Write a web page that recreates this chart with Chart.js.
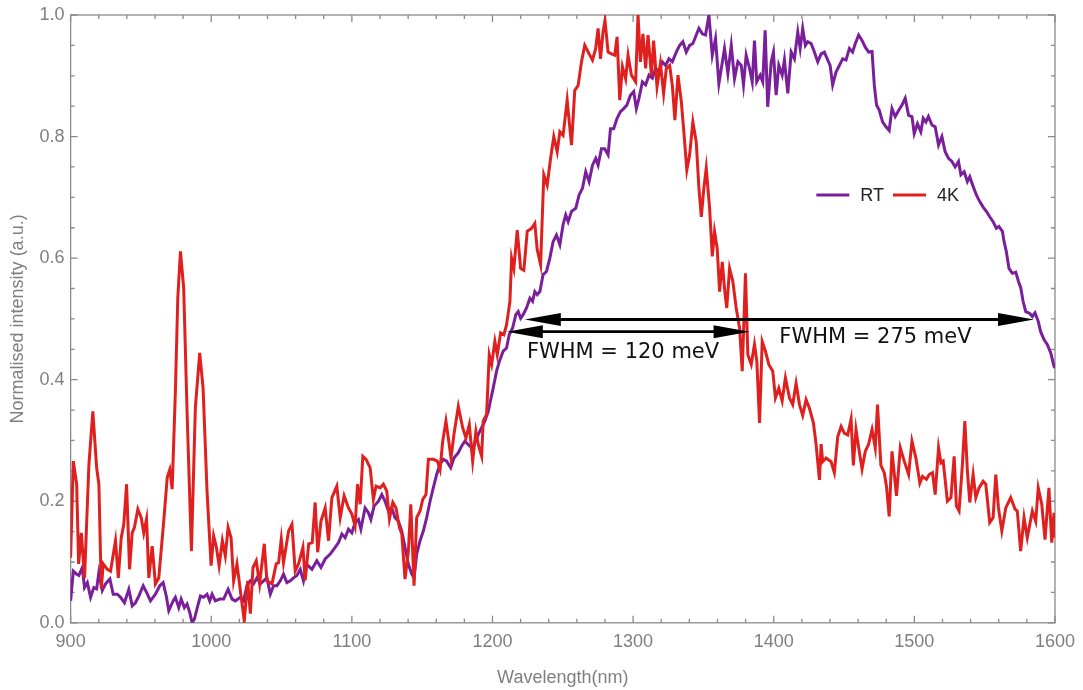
<!DOCTYPE html>
<html>
<head>
<meta charset="utf-8">
<script src="https://cdn.jsdelivr.net/npm/chart.js@4.4.1/dist/chart.umd.min.js"></script>
<style>
  html, body { margin: 0; padding: 0; background: #fff; }
  #wrap { width: 1083px; height: 690px; }
</style>
</head>
<body>
<div id="wrap"><canvas id="spectrum" width="1083" height="690"></canvas></div>
<script>
// RT spectrum (purple)
const rtWavelength = [
  900.0, 901.9, 904.3, 905.9, 908.3, 909.9, 911.9, 914.2, 916.5, 918.5,
  920.1, 922.5, 924.8, 927.9, 930.3, 933.2, 935.5, 938.3, 941.4, 943.8,
  946.1, 948.5, 951.6, 954.0, 956.8, 960.3, 963.4, 965.8, 968.2, 969.8,
  972.9, 974.5, 976.9, 978.6, 980.9, 982.8, 984.7, 986.4, 988.0, 990.4,
  992.3, 994.6, 997.0, 998.9, 1000.6, 1002.9, 1006.0, 1008.8, 1012.0, 1014.8,
  1017.1, 1020.7, 1023.0, 1025.4, 1027.8, 1030.1, 1032.5, 1034.9, 1037.2, 1039.6,
  1042.0, 1044.3, 1046.7, 1049.1, 1051.4, 1053.8, 1056.2, 1058.5, 1060.9, 1063.3,
  1065.6, 1068.0, 1071.6, 1075.1, 1078.0, 1081.0, 1084.6, 1088.1, 1090.5, 1092.9,
  1095.2, 1097.6, 1100.0, 1102.3, 1104.7, 1106.4, 1109.4, 1111.8, 1113.5, 1115.8,
  1118.9, 1121.3, 1123.6, 1126.0, 1128.4, 1130.7, 1133.1, 1135.5, 1137.8, 1140.2,
  1142.6, 1144.2, 1146.1, 1148.5, 1150.8, 1153.2, 1155.6, 1157.9, 1160.3, 1162.7,
  1165.0, 1167.4, 1170.3, 1172.6, 1175.7, 1178.1, 1180.4, 1182.8, 1185.2, 1187.5,
  1189.9, 1192.3, 1194.6, 1197.0, 1198.7, 1200.5, 1202.9, 1205.3, 1207.6, 1210.0,
  1211.9, 1214.3, 1216.6, 1218.3, 1220.0, 1221.8, 1224.2, 1226.6, 1228.5, 1230.1,
  1231.8, 1233.7, 1236.0, 1238.4, 1240.8, 1243.1, 1245.5, 1247.9, 1250.2, 1252.1,
  1253.8, 1256.2, 1259.2, 1261.6, 1264.0, 1266.3, 1268.7, 1271.1, 1273.4, 1275.1,
  1277.5, 1279.8, 1282.2, 1283.9, 1286.2, 1288.6, 1291.0, 1293.3, 1295.6, 1298.1,
  1300.4, 1302.3, 1304.2, 1306.6, 1308.9, 1311.3, 1313.7, 1316.0, 1318.4, 1320.8,
  1323.1, 1325.5, 1327.9, 1330.7, 1333.1, 1335.4, 1337.8, 1340.2, 1342.5, 1344.9,
  1346.8, 1349.2, 1351.5, 1353.9, 1356.3, 1358.6, 1361.0, 1365.0, 1367.4, 1369.8,
  1372.1, 1374.5, 1376.9, 1378.5, 1380.4, 1382.8, 1384.7, 1386.3, 1387.9, 1390.4,
  1392.2, 1393.9, 1395.7, 1398.2, 1399.8, 1401.7, 1403.6, 1406.0, 1407.6, 1410.0,
  1412.4, 1414.7, 1417.1, 1418.8, 1420.6, 1422.5, 1424.2, 1426.6, 1428.9, 1431.3,
  1433.7, 1436.0, 1438.4, 1440.1, 1441.9, 1444.3, 1446.7, 1449.0, 1451.4, 1453.8,
  1456.1, 1458.0, 1460.4, 1462.8, 1465.1, 1467.5, 1469.9, 1471.5, 1473.1, 1475.1,
  1477.4, 1479.8, 1482.1, 1484.1, 1486.4, 1488.8, 1491.2, 1493.5, 1495.9, 1498.3,
  1499.9, 1502.2, 1504.6, 1506.3, 1508.2, 1510.0, 1512.5, 1514.8, 1517.2, 1519.6,
  1521.9, 1524.3, 1526.7, 1529.0, 1531.4, 1533.1, 1535.4, 1537.7, 1539.4, 1541.8,
  1544.1, 1546.5, 1548.9, 1551.2, 1553.6, 1556.0, 1558.3, 1560.2, 1562.6, 1563.8,
  1565.4, 1567.3, 1569.7, 1572.1, 1574.0, 1575.7, 1577.3, 1579.2, 1582.1, 1583.9,
  1585.8, 1588.1, 1589.8, 1592.2, 1594.5, 1597.0, 1599.3, 1600.0
];
const rtIntensity = [
  0.036, 0.085, 0.080, 0.078, 0.091, 0.058, 0.066, 0.042, 0.058, 0.056,
  0.083, 0.053, 0.064, 0.072, 0.047, 0.047, 0.042, 0.033, 0.055, 0.028,
  0.033, 0.044, 0.061, 0.050, 0.036, 0.047, 0.061, 0.066, 0.042, 0.020,
  0.036, 0.042, 0.025, 0.039, 0.025, 0.031, 0.017, 0.000, 0.006, 0.028,
  0.044, 0.042, 0.047, 0.036, 0.047, 0.036, 0.039, 0.039, 0.055, 0.039,
  0.036, 0.042, 0.036, 0.061, 0.069, 0.064, 0.074, 0.064, 0.069, 0.074,
  0.047, 0.061, 0.061, 0.069, 0.080, 0.066, 0.069, 0.074, 0.078, 0.088,
  0.069, 0.096, 0.088, 0.102, 0.091, 0.105, 0.113, 0.124, 0.132, 0.146,
  0.140, 0.154, 0.148, 0.165, 0.170, 0.154, 0.189, 0.181, 0.170, 0.192,
  0.200, 0.211, 0.200, 0.184, 0.189, 0.173, 0.167, 0.151, 0.124, 0.096,
  0.080, 0.074, 0.113, 0.135, 0.151, 0.173, 0.200, 0.222, 0.244, 0.261,
  0.269, 0.266, 0.255, 0.271, 0.280, 0.291, 0.299, 0.293, 0.288, 0.296,
  0.310, 0.321, 0.332, 0.348, 0.367, 0.386, 0.414, 0.433, 0.447, 0.452,
  0.474, 0.485, 0.507, 0.512, 0.501, 0.507, 0.518, 0.534, 0.529, 0.545,
  0.540, 0.545, 0.573, 0.578, 0.600, 0.627, 0.638, 0.622, 0.655, 0.671,
  0.660, 0.677, 0.682, 0.704, 0.715, 0.742, 0.726, 0.753, 0.764, 0.753,
  0.780, 0.780, 0.770, 0.813, 0.813, 0.830, 0.841, 0.846, 0.852, 0.868,
  0.874, 0.846, 0.863, 0.890, 0.885, 0.901, 0.896, 0.912, 0.907, 0.923,
  0.917, 0.928, 0.923, 0.939, 0.950, 0.956, 0.939, 0.950, 0.953, 0.967,
  0.978, 0.969, 0.967, 1.000, 0.934, 0.961, 0.887, 0.945, 0.904, 0.950,
  0.895, 0.923, 0.917, 0.885, 0.934, 0.912, 0.890, 0.958, 0.890, 0.901,
  0.890, 0.975, 0.849, 0.923, 0.939, 0.868, 0.917, 0.901, 0.926, 0.871,
  0.939, 0.928, 0.972, 0.945, 0.978, 0.950, 0.956, 0.953, 0.939, 0.923,
  0.936, 0.939, 0.926, 0.917, 0.885, 0.906, 0.917, 0.928, 0.926, 0.945,
  0.939, 0.953, 0.967, 0.958, 0.947, 0.939, 0.940, 0.885, 0.852, 0.843,
  0.824, 0.816, 0.810, 0.846, 0.833, 0.843, 0.852, 0.863, 0.835, 0.833,
  0.805, 0.821, 0.808, 0.830, 0.824, 0.833, 0.819, 0.816, 0.786, 0.800,
  0.775, 0.764, 0.759, 0.750, 0.759, 0.737, 0.742, 0.726, 0.734, 0.718,
  0.704, 0.693, 0.684, 0.677, 0.668, 0.660, 0.649, 0.652, 0.644, 0.627,
  0.611, 0.583, 0.575, 0.577, 0.562, 0.551, 0.529, 0.512, 0.509, 0.504,
  0.510, 0.496, 0.479, 0.466, 0.458, 0.444, 0.422, 0.419
];

// 4K spectrum (red)
const lowWavelength = [
  900.0, 901.9, 904.3, 905.7, 907.6, 909.9, 913.0, 915.8, 918.5, 920.1,
  921.8, 923.2, 926.1, 928.4, 931.9, 933.9, 936.0, 937.8, 939.8, 941.9,
  943.8, 945.4, 947.8, 950.2, 952.0, 954.0, 955.6, 958.0, 960.3, 962.7,
  966.2, 968.7, 970.5, 972.2, 974.5, 976.2, 978.1, 980.4, 982.8, 985.9,
  988.7, 991.8, 994.2, 997.0, 999.9, 1001.7, 1003.7, 1005.6, 1007.9, 1010.0,
  1012.0, 1014.1, 1015.9, 1018.3, 1020.7, 1023.5, 1025.9, 1027.8, 1029.7, 1032.0,
  1034.4, 1037.7, 1039.6, 1043.2, 1046.2, 1047.9, 1049.8, 1051.4, 1055.0, 1057.4,
  1059.7, 1062.1, 1065.2, 1066.8, 1069.3, 1071.8, 1073.9, 1075.7, 1078.0, 1081.0,
  1083.4, 1085.8, 1089.3, 1091.7, 1094.5, 1097.6, 1100.0, 1102.3, 1104.0, 1105.9,
  1107.8, 1110.1, 1113.0, 1115.3, 1117.2, 1120.1, 1122.4, 1124.8, 1126.7, 1129.1,
  1131.4, 1133.8, 1135.5, 1137.8, 1140.2, 1141.9, 1144.2, 1146.1, 1148.5, 1150.4,
  1152.7, 1154.4, 1157.9, 1160.8, 1162.7, 1164.6, 1166.9, 1168.6, 1170.5, 1172.6,
  1175.7, 1178.8, 1181.1, 1183.5, 1185.9, 1188.2, 1189.9, 1192.3, 1193.4, 1195.8,
  1197.7, 1199.4, 1201.7, 1203.4, 1205.8, 1208.1, 1210.0, 1212.4, 1213.6, 1215.2,
  1217.6, 1220.0, 1222.3, 1224.7, 1227.8, 1230.1, 1231.8, 1234.2, 1236.5, 1238.9,
  1241.3, 1243.6, 1246.0, 1247.9, 1250.2, 1253.1, 1256.2, 1258.5, 1260.9, 1263.3,
  1265.6, 1268.7, 1271.1, 1273.4, 1275.1, 1276.8, 1278.6, 1280.0, 1282.2, 1284.6,
  1286.9, 1288.6, 1290.5, 1292.4, 1294.7, 1296.4, 1298.8, 1301.8, 1303.5, 1305.2,
  1307.0, 1308.9, 1310.6, 1313.0, 1314.6, 1317.0, 1319.4, 1321.7, 1323.6, 1326.0,
  1327.9, 1329.7, 1331.9, 1334.3, 1335.9, 1338.2, 1340.2, 1342.5, 1344.9, 1346.8,
  1348.5, 1350.3, 1352.0, 1354.4, 1356.3, 1357.9, 1359.8, 1361.5, 1363.4, 1365.2,
  1366.6, 1368.6, 1370.9, 1373.3, 1375.7, 1377.6, 1379.9, 1381.6, 1384.0, 1386.3,
  1388.0, 1389.9, 1391.8, 1394.1, 1396.5, 1399.3, 1401.2, 1403.6, 1406.0, 1408.3,
  1411.2, 1413.5, 1415.9, 1418.3, 1420.6, 1423.0, 1425.4, 1428.2, 1430.1, 1432.5,
  1433.7, 1434.8, 1437.2, 1440.8, 1443.1, 1445.5, 1447.9, 1450.2, 1452.6, 1455.0,
  1456.6, 1458.5, 1460.8, 1462.8, 1465.1, 1467.5, 1469.9, 1472.2, 1473.8, 1476.2,
  1478.6, 1480.2, 1482.1, 1484.1, 1487.3, 1490.0, 1492.8, 1495.9, 1498.3, 1501.1,
  1503.9, 1505.8, 1508.6, 1510.5, 1512.9, 1514.8, 1517.2, 1518.9, 1520.5, 1523.5,
  1526.0, 1528.3, 1529.9, 1531.8, 1534.2, 1535.9, 1537.7, 1539.4, 1541.8, 1543.7,
  1546.0, 1548.9, 1550.8, 1553.6, 1556.0, 1557.9, 1559.8, 1562.2, 1565.0, 1568.5,
  1571.6, 1573.2, 1575.6, 1578.0, 1580.3, 1583.9, 1586.3, 1588.1, 1590.6, 1592.9,
  1595.7, 1597.7, 1599.3, 1600.0
];
const lowIntensity = [
  0.107, 0.266, 0.228, 0.097, 0.148, 0.074, 0.260, 0.348, 0.255, 0.228,
  0.056, 0.097, 0.088, 0.085, 0.135, 0.074, 0.140, 0.162, 0.228, 0.088,
  0.148, 0.157, 0.187, 0.173, 0.148, 0.171, 0.074, 0.126, 0.064, 0.074,
  0.167, 0.239, 0.252, 0.220, 0.381, 0.534, 0.611, 0.551, 0.348, 0.118,
  0.354, 0.444, 0.386, 0.217, 0.094, 0.143, 0.124, 0.094, 0.135, 0.110,
  0.157, 0.140, 0.069, 0.097, 0.053, 0.003, 0.069, 0.015, 0.091, 0.102,
  0.064, 0.130, 0.069, 0.064, 0.097, 0.099, 0.138, 0.099, 0.151, 0.162,
  0.085, 0.097, 0.124, 0.070, 0.130, 0.132, 0.198, 0.116, 0.167, 0.189,
  0.135, 0.206, 0.225, 0.173, 0.209, 0.189, 0.179, 0.159, 0.228, 0.195,
  0.274, 0.269, 0.255, 0.203, 0.225, 0.222, 0.228, 0.217, 0.171, 0.198,
  0.189, 0.157, 0.146, 0.072, 0.118, 0.195, 0.061, 0.173, 0.184, 0.203,
  0.211, 0.269, 0.269, 0.266, 0.252, 0.299, 0.332, 0.304, 0.271, 0.310,
  0.356, 0.321, 0.304, 0.326, 0.266, 0.315, 0.293, 0.274, 0.332, 0.343,
  0.441, 0.425, 0.463, 0.441, 0.477, 0.474, 0.490, 0.529, 0.600, 0.583,
  0.646, 0.583, 0.580, 0.644, 0.649, 0.657, 0.614, 0.589, 0.737, 0.720,
  0.764, 0.800, 0.775, 0.808, 0.802, 0.860, 0.786, 0.876, 0.884, 0.923,
  0.950, 0.936, 0.926, 0.945, 0.978, 0.928, 0.972, 0.991, 0.939, 0.936,
  0.934, 0.964, 0.860, 0.915, 0.895, 0.934, 0.901, 0.890, 1.000, 0.923,
  0.969, 0.912, 0.967, 0.901, 0.958, 0.882, 0.920, 0.871, 0.912, 0.917,
  0.884, 0.827, 0.901, 0.857, 0.813, 0.745, 0.770, 0.824, 0.791, 0.715,
  0.668, 0.715, 0.748, 0.682, 0.603, 0.644, 0.616, 0.545, 0.594, 0.545,
  0.518, 0.583, 0.562, 0.518, 0.485, 0.414, 0.575, 0.441, 0.425, 0.458,
  0.430, 0.329, 0.463, 0.447, 0.425, 0.414, 0.370, 0.386, 0.365, 0.403,
  0.370, 0.359, 0.394, 0.359, 0.341, 0.367, 0.353, 0.329, 0.294, 0.235,
  0.294, 0.265, 0.271, 0.265, 0.247, 0.306, 0.323, 0.312, 0.309, 0.335,
  0.259, 0.318, 0.282, 0.253, 0.282, 0.294, 0.318, 0.288, 0.359, 0.259,
  0.247, 0.224, 0.175, 0.282, 0.209, 0.288, 0.266, 0.244, 0.299, 0.271,
  0.230, 0.241, 0.236, 0.244, 0.247, 0.211, 0.288, 0.263, 0.266, 0.200,
  0.206, 0.274, 0.192, 0.184, 0.261, 0.332, 0.250, 0.198, 0.244, 0.206,
  0.222, 0.233, 0.228, 0.165, 0.173, 0.244, 0.189, 0.151, 0.189, 0.206,
  0.187, 0.184, 0.118, 0.173, 0.140, 0.184, 0.167, 0.222, 0.195, 0.137,
  0.222, 0.132, 0.181, 0.140
];

const xTickValues = [900, 1000, 1100, 1200, 1300, 1400, 1500, 1600];
const yTickValues = [0, 0.2, 0.4, 0.6, 0.8, 1.0];

// FWHM arrows (nm, normalised level) and their labels
const arrowFrom = [1223.0, 1210.2];
const arrowTo = [1585.1, 1382.8];
const arrowLevel = [0.499, 0.479];
const fwhmText = ['FWHM = 275 meV', 'FWHM = 120 meV'];
const fwhmTextAt = [1404.0, 1224.5];
const fwhmTextLevel = [0.470, 0.445];

const purple = '#7a1f9c';
const red = '#e0201e';
const axisGrey = '#8a8a8a';

function toPoints(xs, ys) {
  const n = Math.min(xs.length, ys.length);
  const pts = [];
  for (let i = 0; i < n; i++) pts.push({ x: xs[i], y: ys[i] });
  return pts;
}

// box round the plot with inward ticks, like the original
const framePlugin = {
  id: 'frame',
  beforeDatasetsDraw(chart) {
    const { ctx, chartArea: a, scales: { x, y } } = chart;
    ctx.save();
    ctx.strokeStyle = axisGrey;
    ctx.lineWidth = 1.3;
    ctx.strokeRect(a.left, a.top, a.width, a.height);
    ctx.beginPath();
    for (let v = 900; v <= 1600; v += 20) {
      const px = x.getPixelForValue(v);
      const len = v % 100 === 0 ? 7 : 4;
      ctx.moveTo(px, a.bottom); ctx.lineTo(px, a.bottom - len);
      ctx.moveTo(px, a.top); ctx.lineTo(px, a.top + len);
    }
    for (let i = 0; i <= 20; i++) {
      const py = y.getPixelForValue(i * 0.05);
      const len = i % 4 === 0 ? 7 : 4;
      ctx.moveTo(a.left, py); ctx.lineTo(a.left + len, py);
      ctx.moveTo(a.right, py); ctx.lineTo(a.right - len, py);
    }
    ctx.stroke();
    ctx.restore();
  }
};

function arrowHead(ctx, tipX, tipY, dir) {
  ctx.beginPath();
  ctx.moveTo(tipX, tipY);
  ctx.lineTo(tipX - dir * 36, tipY - 6.5);
  ctx.lineTo(tipX - dir * 36, tipY + 6.5);
  ctx.closePath();
  ctx.fill();
}

const fwhmPlugin = {
  id: 'fwhm',
  afterDatasetsDraw(chart) {
    const { ctx, scales: { x, y } } = chart;
    ctx.save();
    ctx.strokeStyle = '#000';
    ctx.fillStyle = '#000';
    ctx.lineWidth = 2.8;
    for (let i = 0; i < arrowFrom.length; i++) {
      const x1 = x.getPixelForValue(arrowFrom[i]);
      const x2 = x.getPixelForValue(arrowTo[i]);
      const py = y.getPixelForValue(arrowLevel[i]);
      ctx.beginPath();
      ctx.moveTo(x1 + 20, py);
      ctx.lineTo(x2 - 20, py);
      ctx.stroke();
      arrowHead(ctx, x1, py, -1);
      arrowHead(ctx, x2, py, 1);
    }
    ctx.font = '21px "DejaVu Sans"';
    ctx.textAlign = 'left';
    ctx.textBaseline = 'middle';
    ctx.fillStyle = '#111';
    for (let i = 0; i < fwhmText.length; i++) {
      ctx.fillText(fwhmText[i], x.getPixelForValue(fwhmTextAt[i]), y.getPixelForValue(fwhmTextLevel[i]));
    }
    ctx.restore();
  }
};

// legend drawn inside the plot, RT first then 4K
const insideLegend = {
  id: 'insideLegend',
  afterDraw(chart) {
    const { ctx, scales: { x, y } } = chart;
    let px = x.getPixelForValue(1430.3);
    const py = y.getPixelForValue(0.704);
    ctx.save();
    ctx.font = '18px "Liberation Sans"';
    ctx.textBaseline = 'middle';
    ctx.lineWidth = 3;
    const items = [chart.data.datasets[1], chart.data.datasets[0]];
    items.forEach(ds => {
      ctx.strokeStyle = ds.borderColor;
      ctx.beginPath();
      ctx.moveTo(px, py);
      ctx.lineTo(px + 33, py);
      ctx.stroke();
      px += 44;
      ctx.fillStyle = '#222';
      ctx.fillText(ds.label, px, py + 1);
      px += ctx.measureText(ds.label).width + 9;
    });
    ctx.restore();
  }
};

Chart.defaults.font.family = '"Liberation Sans", Arial, sans-serif';

new Chart(document.getElementById('spectrum').getContext('2d'), {
  type: 'line',
  data: {
    datasets: [
      {
        label: '4K',
        data: toPoints(lowWavelength, lowIntensity),
        borderColor: red,
        borderWidth: 3,
        pointRadius: 0,
        tension: 0,
        order: 0
      },
      {
        label: 'RT',
        data: toPoints(rtWavelength, rtIntensity),
        borderColor: purple,
        borderWidth: 3,
        pointRadius: 0,
        tension: 0,
        order: 1
      }
    ]
  },
  options: {
    responsive: false,
    animation: false,
    layout: { padding: { top: 7, right: 27, bottom: 1, left: 7 } },
    plugins: {
      legend: { display: false },
      tooltip: { enabled: false }
    },
    scales: {
      x: {
        type: 'linear',
        min: 900,
        max: 1600,
        afterBuildTicks: s => { s.ticks = xTickValues.map(v => ({ value: v })); },
        grid: { display: false, drawTicks: false },
        border: { display: false },
        ticks: {
          color: '#7f7f7f',
          font: { size: 18 },
          padding: 8,
          maxRotation: 0,
          callback: v => String(v)
        },
        title: {
          display: true,
          text: 'Wavelength(nm)',
          color: '#7f7f7f',
          font: { size: 18 },
          padding: { top: 7, bottom: 0 }
        }
      },
      y: {
        min: 0,
        max: 1,
        afterBuildTicks: s => { s.ticks = yTickValues.map(v => ({ value: v })); },
        grid: { display: false, drawTicks: false },
        border: { display: false },
        ticks: {
          color: '#7f7f7f',
          font: { size: 18, lineHeight: 1.0 },
          padding: 6,
          callback: v => v.toFixed(1)
        },
        title: {
          display: true,
          text: 'Normalised intensity (a.u.)',
          color: '#7f7f7f',
          font: { size: 18 },
          padding: { top: 0, bottom: 5 }
        }
      }
    }
  },
  plugins: [framePlugin, fwhmPlugin, insideLegend]
});
</script>
</body>
</html>
